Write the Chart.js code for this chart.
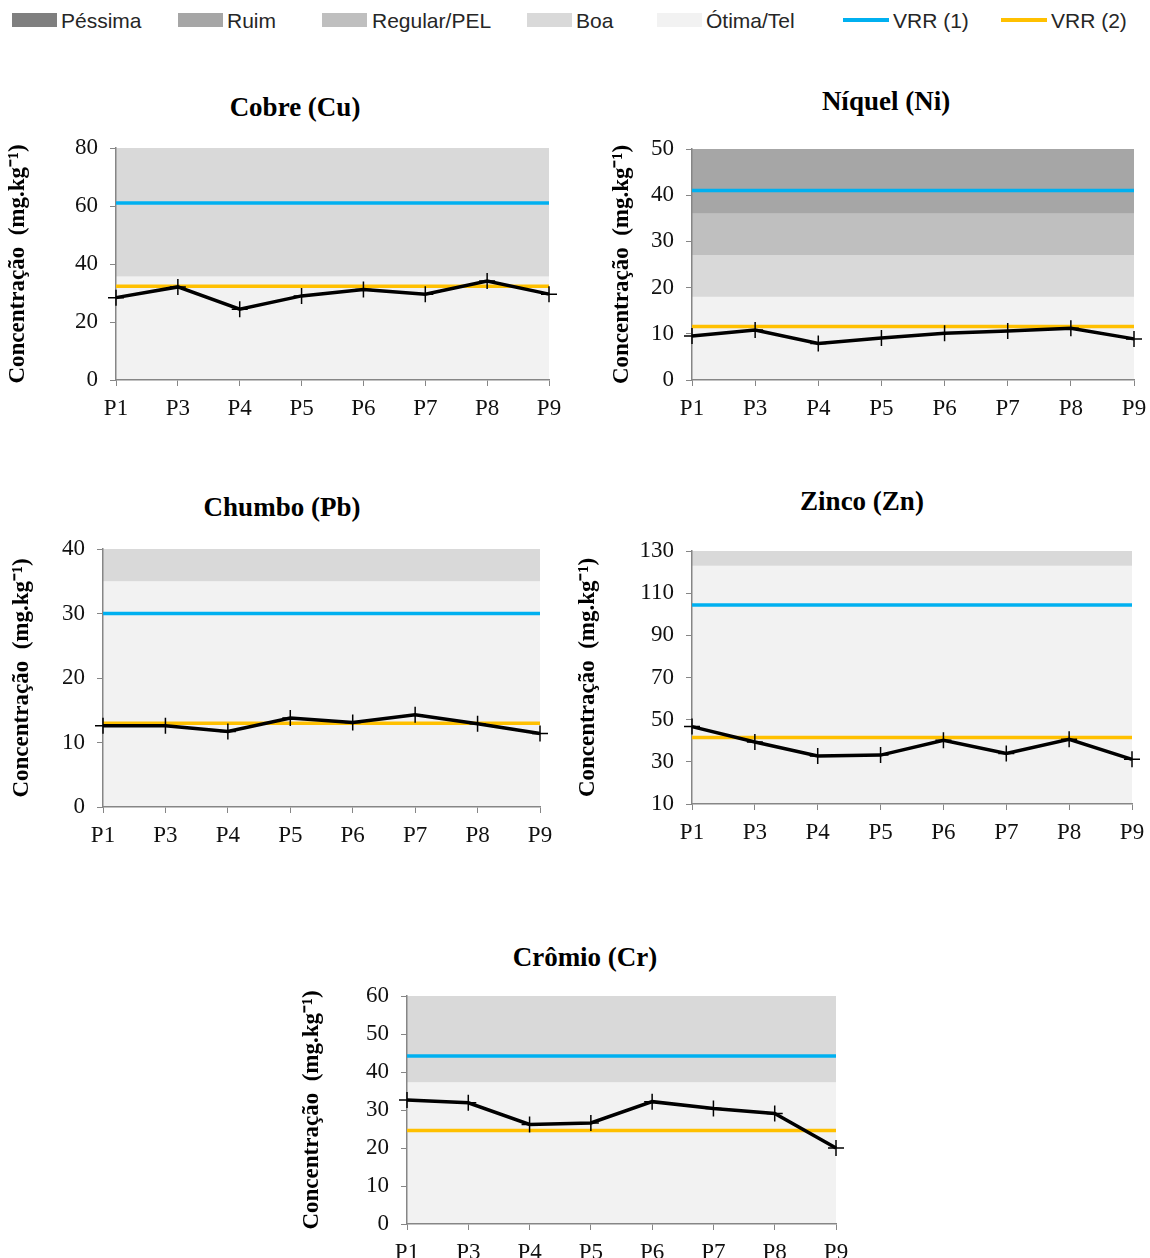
<!DOCTYPE html>
<html>
<head>
<meta charset="utf-8">
<script src="https://cdn.jsdelivr.net/npm/chart.js@4/dist/chart.umd.min.js"></script>
<style>
  html, body { margin: 0; padding: 0; background: #fff; width: 1150px; height: 1258px; overflow: hidden; }
  body { position: relative; }
  .legend { position: absolute; top: 0; left: 0; width: 1150px; height: 40px; font-family: "Liberation Sans Narrow", "Liberation Sans", sans-serif; font-size: 21px; color: #262626; }
  .legend span { position: absolute; }
  .sw { top: 13px; width: 45px; height: 14px; }
  .ln { top: 18px; width: 46px; height: 4px; }
  .lt { top: 8px; line-height: 26px; }
  .title { position: absolute; font-family: "Liberation Serif", "Times New Roman", serif; font-weight: bold; font-size: 27px; color: #000; transform: translate(-50%, -50%); white-space: nowrap; }
  canvas { position: absolute; }
</style>
</head>
<body>
<div class="legend">
  <span class="sw" style="left:12px;background:#7f7f7f"></span><span class="lt" style="left:61px">Péssima</span>
  <span class="sw" style="left:178px;background:#a6a6a6"></span><span class="lt" style="left:227px">Ruim</span>
  <span class="sw" style="left:322px;background:#bfbfbf"></span><span class="lt" style="left:372px">Regular/PEL</span>
  <span class="sw" style="left:527px;background:#d9d9d9"></span><span class="lt" style="left:576px">Boa</span>
  <span class="sw" style="left:657px;background:#f2f2f2"></span><span class="lt" style="left:706px">Ótima/Tel</span>
  <span class="ln" style="left:843px;background:#00b0f0"></span><span class="lt" style="left:893px">VRR (1)</span>
  <span class="ln" style="left:1001px;background:#ffc000"></span><span class="lt" style="left:1051px">VRR (2)</span>
</div>

<div class="title" style="left:295px;top:107px">Cobre (Cu)</div>
<div class="title" style="left:886px;top:101px">Níquel (Ni)</div>
<div class="title" style="left:282px;top:507px">Chumbo (Pb)</div>
<div class="title" style="left:862px;top:501px">Zinco (Zn)</div>
<div class="title" style="left:585px;top:957px">Crômio (Cr)</div>

<canvas id="cu"></canvas>
<canvas id="ni"></canvas>
<canvas id="pb"></canvas>
<canvas id="zn"></canvas>
<canvas id="cr"></canvas>

<script>
// pontos de coleta (eixo x comum)
const points = ['P1', 'P3', 'P4', 'P5', 'P6', 'P7', 'P8', 'P9'];

// concentrações medidas (mg/kg)
const cobre = [28.4, 32.1, 24.4, 29.0, 31.2, 29.6, 34.1, 29.6];
const niquel = [9.5, 10.8, 7.9, 9.1, 10.1, 10.6, 11.2, 8.9];
const chumbo = [12.6, 12.6, 11.7, 13.8, 13.1, 14.3, 12.9, 11.4];
const zinco = [46.7, 39.4, 32.8, 33.2, 40.2, 34.0, 40.7, 31.2];
const cromio = [32.6, 31.9, 26.2, 26.6, 32.2, 30.4, 29.1, 20.0];

// valores de referência regional, ordem: Cu, Ni, Pb, Zn, Cr
const vrr1 = [61, 41, 30, 104.4, 44.2];
const vrr2 = [32.3, 11.6, 13, 41.5, 24.6];

// faixas de qualidade [de, até, classe]
const faixasCu = [[0, 35.7, 'otima'], [35.7, 80, 'boa']];
const faixasNi = [[0, 18, 'otima'], [18, 27, 'boa'], [27, 36, 'regular'], [36, 50, 'ruim']];
const faixasPb = [[0, 35, 'otima'], [35, 40, 'boa']];
const faixasZn = [[10, 123, 'otima'], [123, 130, 'boa']];
const faixasCr = [[0, 37.3, 'otima'], [37.3, 60, 'boa']];

// escalas do eixo y [min, max, passo]
const eixoCu = [0, 80, 20];
const eixoNi = [0, 50, 10];
const eixoPb = [0, 40, 10];
const eixoZn = [10, 130, 20];
const eixoCr = [0, 60, 10];

const corFaixa = { pessima: '#7f7f7f', ruim: '#a6a6a6', regular: '#bfbfbf', boa: '#d9d9d9', otima: '#f2f2f2' };
const AXIS = '#868686';
const SERIF = '"Liberation Serif", "Times New Roman", serif';

const faixasPlugin = {
  id: 'faixas',
  beforeDraw(chart, args, opts) {
    const { ctx, chartArea: a, scales: { y } } = chart;
    ctx.save();
    (opts.bands || []).forEach(([lo, hi, cls]) => {
      const top = y.getPixelForValue(hi);
      const bot = y.getPixelForValue(lo);
      ctx.fillStyle = corFaixa[cls];
      ctx.fillRect(a.left, top, a.right - a.left, bot - top);
    });
    ctx.restore();
  },
};

// geometria: área do gráfico (x0..x1, y0..y1) e centro do título do eixo y (aX)
function grafico(id, box, valores, v1, v2, faixas, eixo) {
  const padTop = 28, padRight = 28;
  const cl = box.aX - 16, ct = box.y0 - padTop;
  const cw = box.x1 + padRight - cl, ch = box.y1 + 54 - ct;
  const cv = document.getElementById(id);
  cv.style.left = cl + 'px'; cv.style.top = ct + 'px';
  cv.style.width = cw + 'px'; cv.style.height = ch + 'px';
  cv.width = cw; cv.height = ch;
  const yw = box.x0 - cl;

  return new Chart(cv, {
    type: 'line',
    data: {
      labels: points,
      datasets: [
        {
          data: valores, borderColor: '#000', borderWidth: 3.5, tension: 0,
          pointStyle: 'cross', pointRadius: 8, pointBorderWidth: 1.5, pointBorderColor: '#000',
        },
        { data: points.map(() => v2), borderColor: '#ffc000', borderWidth: 3.5, pointRadius: 0 },
        { data: points.map(() => v1), borderColor: '#00b0f0', borderWidth: 3.5, pointRadius: 0 },
      ],
    },
    options: {
      responsive: false, animation: false, events: [],
      layout: { padding: { top: padTop, right: padRight, left: 0, bottom: 0 } },
      plugins: { legend: { display: false }, tooltip: { enabled: false }, faixas: { bands: faixas } },
      scales: {
        x: {
          offset: false,
          grid: { drawOnChartArea: false, drawTicks: true, tickLength: 6, color: AXIS },
          border: { color: AXIS, width: 1.5 },
          ticks: { color: '#111', padding: 9, maxRotation: 0, font: { family: SERIF, size: 23 } },
          afterFit(s) { s.height = 54; },
        },
        y: {
          min: eixo[0], max: eixo[1],
          grid: { drawOnChartArea: false, drawTicks: true, tickLength: 6, color: AXIS },
          border: { color: AXIS, width: 1.5 },
          ticks: { stepSize: eixo[2], color: '#111', padding: 12, font: { family: SERIF, size: 23 } },
          title: {
            display: true, text: 'Concentração  (mg.kg⁻¹)', color: '#000',
            padding: { top: 2, bottom: 0 },
            font: { family: SERIF, size: 23, weight: 'bold' },
          },
          afterFit(s) { s.width = yw; },
        },
      },
    },
    plugins: [faixasPlugin],
  });
}

grafico('cu', { x0: 116, x1: 549, y0: 148, y1: 380, aX: 18 }, cobre, vrr1[0], vrr2[0], faixasCu, eixoCu);
grafico('ni', { x0: 692, x1: 1134, y0: 149, y1: 380, aX: 622 }, niquel, vrr1[1], vrr2[1], faixasNi, eixoNi);
grafico('pb', { x0: 103, x1: 540, y0: 549, y1: 807, aX: 22 }, chumbo, vrr1[2], vrr2[2], faixasPb, eixoPb);
grafico('zn', { x0: 692, x1: 1132, y0: 551, y1: 804, aX: 588 }, zinco, vrr1[3], vrr2[3], faixasZn, eixoZn);
grafico('cr', { x0: 407, x1: 836, y0: 996, y1: 1224, aX: 312 }, cromio, vrr1[4], vrr2[4], faixasCr, eixoCr);
</script>
</body>
</html>
